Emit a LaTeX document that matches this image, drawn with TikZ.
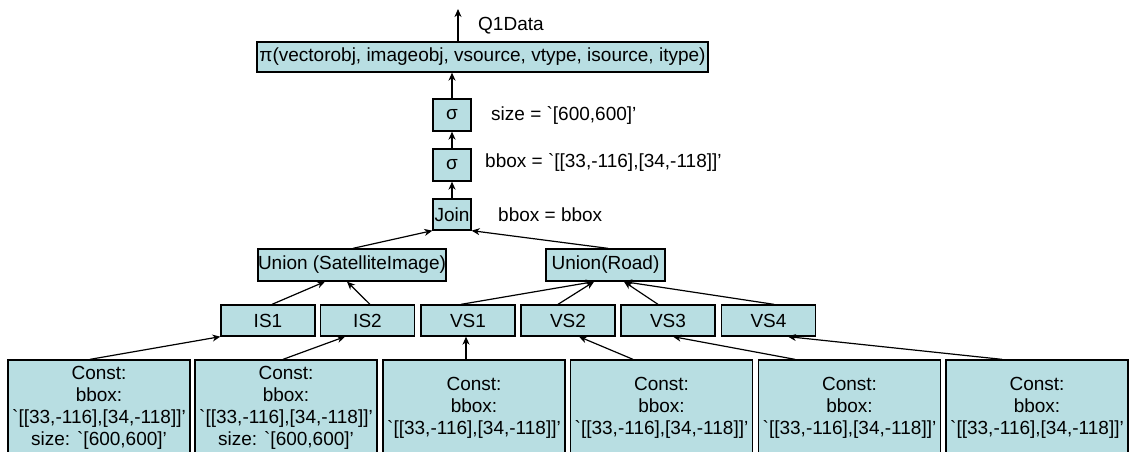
\documentclass[tikz,border=0pt]{standalone}
\usepackage{fontspec}
\setmainfont{Liberation Sans}
\newfontfamily\plainlib{Liberation Sans}
\usetikzlibrary{arrows.meta}
\definecolor{boxfill}{RGB}{184,222,226}
\newcommand{\bq}{{\plainlib\symbol{96}}}
\begin{document}
\begin{tikzpicture}[x=1pt,y=-1pt,
  box/.style={draw=black,fill=boxfill,line width=1.3pt,inner sep=0pt,
    font=\fontsize{19}{22}\selectfont},
  cbox/.style={box,minimum width=182pt,minimum height=96pt,align=center},
  sbox/.style={box,minimum width=94pt,minimum height=31pt},
  arr/.style={line width=1.2pt,-{Stealth[length=8pt,width=7pt,inset=2.5pt]}},
  lbl/.style={anchor=west,inner sep=0pt,font=\fontsize{19}{22}\selectfont}]
\useasboundingbox (0,0) rectangle (1130,452);
\clip (0,0) rectangle (1130,452);
% nodes
\node[box,minimum width=451pt,minimum height=30pt] (pi) at (482.5,57) {π(vectorobj, imageobj, vsource, vtype, isource, itype)};
\node[box,minimum width=38pt,minimum height=32pt] (s1) at (452,115) {σ};
\node[box,minimum width=38pt,minimum height=32pt] (s2) at (452,165) {σ};
\node[box,minimum width=38pt,minimum height=31pt] (join) at (452,214.5) {Join};
\node[box,minimum width=188pt,minimum height=32pt] (us) at (352,265) {Union (SatelliteImage)};
\node[box,minimum width=119pt,minimum height=32pt] (road) at (605.5,265) {Union(Road)};
\node[sbox] (is1) at (268,320.5) {IS1};
\node[sbox] (is2) at (367.5,320.5) {IS2};
\node[sbox] (vs1) at (468,320.5) {VS1};
\node[sbox] (vs2) at (568,320.5) {VS2};
\node[sbox] (vs3) at (668,320.5) {VS3};
\node[sbox] (vs4) at (768.5,320.5) {VS4};
\node[cbox] (b1) at (99,408) {Const:\\bbox:\\\bq[[33,-116],[34,-118]]'\\size: \bq[600,600]'};
\node[cbox] (b2) at (286,408) {Const:\\bbox:\\\bq[[33,-116],[34,-118]]'\\size: \bq[600,600]'};
\node[cbox] (b3) at (474,408) {Const:\\bbox:\\\bq[[33,-116],[34,-118]]'};
\node[cbox] (b4) at (661.5,408) {Const:\\bbox:\\\bq[[33,-116],[34,-118]]'};
\node[cbox] (b5) at (849.5,408) {Const:\\bbox:\\\bq[[33,-116],[34,-118]]'};
\node[cbox] (b6) at (1037,408) {Const:\\bbox:\\\bq[[33,-116],[34,-118]]'};
% labels
\node[lbl] (lq) at (478,26) {Q1Data};
\node[lbl] (l1) at (491,115) {size = \bq[600,600]'};
\node[lbl] (l2) at (485,162) {bbox = \bq[[33,-116],[34,-118]]'};
\node[lbl] (l3) at (498,215) {bbox = bbox};
\coordinate (q) at (458,9);
% connectors
\draw[arr] ([xshift=-24.5pt]pi.north) -- (q);
\draw[arr] (s1.north) -- (s1.north |- pi.south);
\draw[arr] (s2.north) -- (s1.south);
\draw[arr] (join.north) -- (s2.south);
\draw[arr] ([xshift=1pt]us.north) -- (join.south west);
\draw[arr] ([xshift=2.5pt]road.north) -- (join.south east);
\draw[arr] ([xshift=4pt]is1.north) -- ([xshift=-27pt]us.south);
\draw[arr] ([xshift=2.5pt]is2.north) -- ([xshift=-5pt]us.south);
\draw[arr] ([xshift=-7pt]vs1.north) -- ([xshift=-11.5pt]road.south);
\draw[arr] ([xshift=-10pt]vs2.north) -- ([xshift=-11.5pt]road.south);
\draw[arr] ([xshift=-10pt]vs3.north) -- ([xshift=18.5pt]road.south);
\draw[arr] ([xshift=5.5pt]vs4.north) -- ([xshift=18.5pt]road.south);
\draw[arr] ([xshift=-9pt]b1.north) -- (is1.south west);
\draw[arr] ([xshift=-3pt]b2.north) -- ([xshift=-22.5pt]is2.south);
\draw[arr] ([xshift=-8pt]b3.north) -- ([xshift=-2pt]vs1.south);
\draw[arr] ([xshift=-28.5pt]b4.north) -- ([xshift=11pt]vs2.south);
\draw[arr] ([xshift=-54.5pt]b5.north) -- ([xshift=5pt]vs3.south);
\draw[arr] ([xshift=-35pt]b6.north) -- ([xshift=19.5pt]vs4.south);
\end{tikzpicture}
\end{document}
